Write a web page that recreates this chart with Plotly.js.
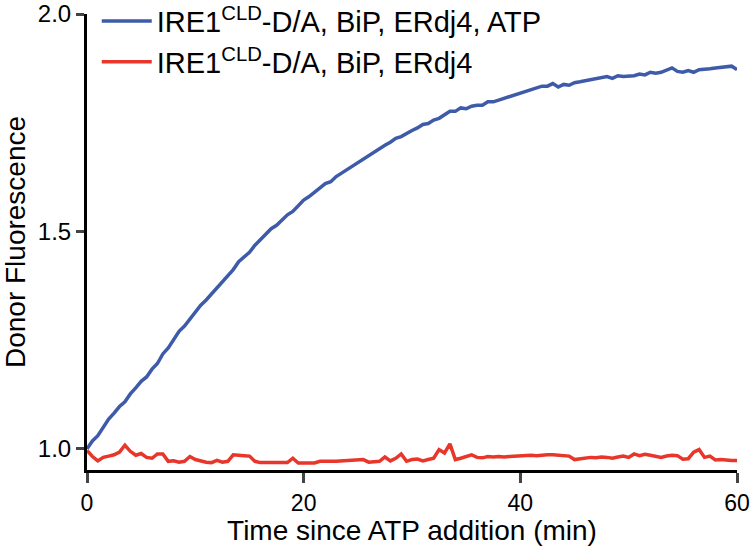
<!DOCTYPE html>
<html>
<head>
<meta charset="utf-8">
<script src="https://cdn.plot.ly/plotly-3.0.1.min.js"></script>
<style>
  body { margin: 0; background: #fff; }
  #chart { width: 750px; height: 546px; }
</style>
</head>
<body>
<div id="chart"></div>
<script>
// sampling times (min)
var timeMin = [0, 0.5, 1, 1.5, 2, 2.5, 3, 3.5, 4, 4.5, 5, 5.5, 6, 6.5, 7, 7.5, 8, 8.5, 9, 9.5,
  10, 10.5, 11, 11.5, 12, 12.5, 13, 13.5, 14, 14.5, 15, 15.5, 16, 16.5, 17, 17.5, 18, 18.5, 19, 19.5,
  20, 20.5, 21, 21.5, 22, 22.5, 23, 23.5, 24, 24.5, 25, 25.5, 26, 26.5, 27, 27.5, 28, 28.5, 29, 29.5,
  30, 30.5, 31, 31.5, 32, 32.5, 33, 33.5, 34, 34.5, 35, 35.5, 36, 36.5, 37, 37.5, 38, 38.5, 39, 39.5,
  40, 40.5, 41, 41.5, 42, 42.5, 43, 43.5, 44, 44.5, 45, 45.5, 46, 46.5, 47, 47.5, 48, 48.5, 49, 49.5,
  50, 50.5, 51, 51.5, 52, 52.5, 53, 53.5, 54, 54.5, 55, 55.5, 56, 56.5, 57, 57.5, 58, 58.5, 59, 59.5, 60];

// with ATP
var withAtp = [1.000, 1.018, 1.030, 1.050, 1.068, 1.082, 1.097, 1.108, 1.126, 1.140,
  1.155, 1.165, 1.183, 1.196, 1.218, 1.232, 1.250, 1.270, 1.282, 1.298,
  1.312, 1.330, 1.342, 1.356, 1.372, 1.385, 1.398, 1.412, 1.430, 1.440,
  1.452, 1.468, 1.480, 1.492, 1.506, 1.514, 1.526, 1.538, 1.546, 1.560,
  1.572, 1.580, 1.590, 1.598, 1.610, 1.614, 1.626, 1.634, 1.642, 1.652,
  1.658, 1.666, 1.676, 1.682, 1.692, 1.698, 1.705, 1.714, 1.718, 1.726,
  1.732, 1.738, 1.746, 1.748, 1.756, 1.760, 1.768, 1.776, 1.776, 1.784,
  1.782, 1.788, 1.790, 1.790, 1.798, 1.798, 1.802, 1.806, 1.808, 1.814,
  1.816, 1.820, 1.824, 1.828, 1.834, 1.834, 1.840, 1.832, 1.838, 1.836,
  1.842, 1.844, 1.846, 1.848, 1.852, 1.854, 1.856, 1.852, 1.858, 1.856,
  1.856, 1.858, 1.862, 1.860, 1.866, 1.864, 1.866, 1.872, 1.876, 1.868,
  1.866, 1.870, 1.866, 1.872, 1.872, 1.874, 1.876, 1.878, 1.880, 1.880, 1.872];

// without ATP
var noAtp = [0.996, 0.982, 0.972, 0.980, 0.983, 0.986, 0.992, 1.008, 0.994, 0.985,
  0.989, 0.980, 0.978, 0.988, 0.988, 0.971, 0.972, 0.969, 0.971, 0.982,
  0.975, 0.971, 0.969, 0.968, 0.973, 0.969, 0.971, 0.986, 0.984, 0.984,
  0.983, 0.971, 0.968, 0.967, 0.968, 0.968, 0.969, 0.968, 0.978, 0.967,
  0.967, 0.968, 0.967, 0.971, 0.970, 0.971, 0.971, 0.972, 0.972, 0.973,
  0.974, 0.975, 0.969, 0.969, 0.971, 0.981, 0.972, 0.978, 0.988, 0.971,
  0.975, 0.976, 0.972, 0.975, 0.978, 0.998, 0.990, 1.011, 0.975, 0.978,
  0.982, 0.986, 0.980, 0.979, 0.982, 0.981, 0.982, 0.981, 0.982, 0.983,
  0.984, 0.983, 0.985, 0.984, 0.986, 0.986, 0.986, 0.985, 0.985, 0.983,
  0.975, 0.977, 0.979, 0.980, 0.979, 0.981, 0.980, 0.978, 0.981, 0.983,
  0.980, 0.988, 0.984, 0.987, 0.985, 0.982, 0.980, 0.983, 0.985, 0.984,
  0.976, 0.977, 0.992, 0.998, 0.980, 0.983, 0.974, 0.975, 0.973, 0.973, 0.973];

var xTicks = [0, 20, 40, 60];
var yTicks = [1.0, 1.5, 2.0];

var traceAtp = {
  x: timeMin,
  y: withAtp,
  name: 'IRE1<sup>CLD</sup>-D/A, BiP, ERdj4, ATP',
  type: 'scatter',
  mode: 'lines',
  line: {color: '#3d5ba9', width: 3.5}
};

var traceNoAtp = {
  x: timeMin,
  y: noAtp,
  name: 'IRE1<sup>CLD</sup>-D/A, BiP, ERdj4',
  type: 'scatter',
  mode: 'lines',
  line: {color: '#e8362b', width: 3.5}
};

var layout = {
  width: 750,
  height: 546,
  // fixed margins so the legend can sit above the plot top
  margin: {l: 87, r: 13, t: 14, b: 76, autoexpand: false},
  paper_bgcolor: '#fff',
  plot_bgcolor: '#fff',
  font: {family: 'Liberation Sans, Arial, sans-serif', color: '#000', size: 22},
  showlegend: true,
  legend: {
    x: 0.015, y: 1.04, xanchor: 'left', yanchor: 'top',
    font: {size: 29},
    bgcolor: 'rgba(0,0,0,0)',
    itemwidth: 50,
    tracegroupgap: 0
  },
  xaxis: {
    range: [0, 60],
    tickvals: xTicks,
    ticks: 'outside', ticklen: 10, tickwidth: 3,
    showline: true, linewidth: 3, linecolor: '#000',
    showgrid: false, zeroline: false,
    tickfont: {size: 23},
    ticklabeloverflow: 'allow',
    title: {text: 'Time since ATP addition (min)', font: {size: 28}, standoff: 3}
  },
  yaxis: {
    range: [0.951, 2.0],
    tickvals: yTicks,
    tickformat: '.1f',
    ticks: 'outside', ticklen: 8, tickwidth: 3,
    showline: true, linewidth: 3, linecolor: '#000',
    showgrid: false, zeroline: false,
    tickfont: {size: 24},
    title: {text: 'Donor Fluorescence', font: {size: 28}, standoff: 8}
  }
};

Plotly.newPlot('chart', [traceAtp, traceNoAtp], layout, {displayModeBar: false, staticPlot: true});
</script>
</body>
</html>
